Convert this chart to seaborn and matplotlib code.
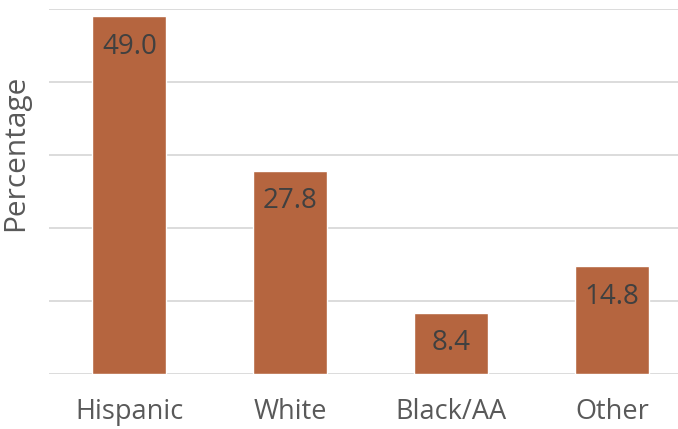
import seaborn as sns
import matplotlib.pyplot as plt
import pandas as pd

# Chart data
groups = ["Hispanic", "White", "Black/AA", "Other"]
percentages = [49.0, 27.8, 8.4, 14.8]

df = pd.DataFrame({"Group": groups, "Percentage": percentages})

sns.set_style("white")
plt.rcParams["font.family"] = ["Open Sans", "DejaVu Sans"]

fig = plt.figure(figsize=(6.78, 4.29), dpi=100)
ax = fig.add_axes([49 / 678, 55 / 429, 1 - 49 / 678, (374 - 8.5) / 429])

sns.barplot(data=df, x="Group", y="Percentage", color="#B5653F",
            width=0.46, saturation=1, ax=ax, zorder=3)

ax.set_ylim(0, 50)
ax.set_xlim(-0.5, 3.41)
ax.set_yticks(range(0, 51, 10))
ax.yaxis.grid(True, color="#D9D9D9", linewidth=1.3, zorder=0)
ax.tick_params(axis="y", left=False, labelleft=False)
ax.tick_params(axis="x", bottom=False, labelsize=19.5, labelcolor="#595959", pad=14)
for s in ax.spines.values():
    s.set_visible(False)

ax.set_xlabel("")
ax.set_ylabel("Percentage", fontsize=21.5, color="#595959")
ax.yaxis.set_label_coords(-0.03, 0.605)

for i, v in enumerate(percentages):
    ax.text(i, v - 4.2, f"{v:.1f}", ha="center", va="center",
            fontsize=20, color="#404040", zorder=4)

plt.savefig("out.png", dpi=100)
